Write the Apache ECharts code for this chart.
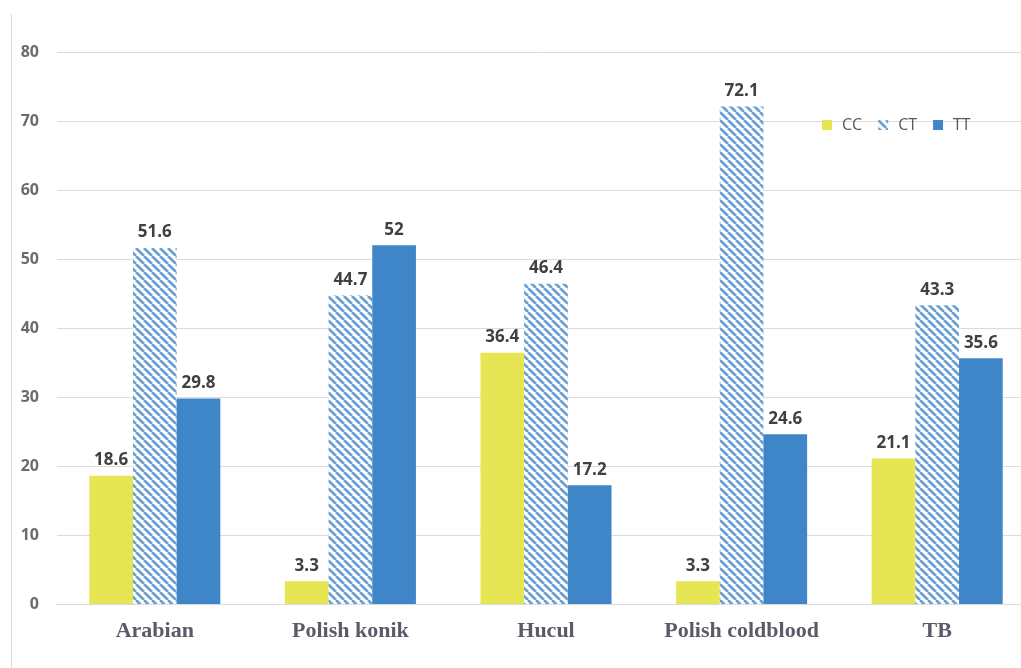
<!DOCTYPE html>
<html>
<head>
<meta charset="utf-8">
<script src="https://cdn.jsdelivr.net/npm/echarts@6/dist/echarts.min.js"></script>
<style>
html,body{margin:0;padding:0;background:#fff;}
#chart{width:1021px;height:668px;}
</style>
</head>
<body>
<div id="chart"></div>
<script>
const categories = ['Arabian', 'Polish konik', 'Hucul', 'Polish coldblood', 'TB'];
const seriesNames = ['CC', 'CT', 'TT'];
const ccValues = [18.6, 3.3, 36.4, 3.3, 21.1];
const ctValues = [51.6, 44.7, 46.4, 72.1, 43.3];
const ttValues = [29.8, 52, 17.2, 24.6, 35.6];
const yTicks = [0, 10, 20, 30, 40, 50, 60, 70, 80];

function hatch() {
  const p = 8;
  const c = document.createElement('canvas');
  c.width = p; c.height = p;
  const ctx = c.getContext('2d');
  ctx.fillStyle = '#ffffff';
  ctx.fillRect(0, 0, p, p);
  ctx.strokeStyle = '#6aa0d2';
  ctx.lineWidth = 2.7;
  for (let x = -p; x <= p; x += p) {
    ctx.beginPath();
    ctx.moveTo(x, 0);
    ctx.lineTo(x + p, p);
    ctx.stroke();
  }
  return { image: c, repeat: 'repeat' };
}

const labelStyle = {
  show: true,
  position: 'top',
  distance: 7,
  color: '#404040',
  fontFamily: 'Open Sans',
  fontWeight: 'bold',
  fontSize: 17
};

const chart = echarts.init(document.getElementById('chart'), null, { renderer: 'canvas' });
chart.setOption({
  backgroundColor: '#ffffff',
  animation: false,
  graphic: [{
    type: 'line',
    shape: { x1: 11.5, y1: 14, x2: 11.5, y2: 668 },
    style: { stroke: '#d9d9d9', lineWidth: 1 }
  }],
  legend: {
    data: seriesNames,
    left: 817,
    top: 112,
    itemWidth: 10,
    itemHeight: 10,
    itemGap: 16,
    icon: 'rect',
    textStyle: { color: '#595959', fontFamily: 'Open Sans', fontSize: 16, padding: [0, 0, 0, 5] }
  },
  grid: { left: 57, width: 978, top: 52, height: 552, containLabel: false, outerBoundsMode: 'none' },
  xAxis: {
    type: 'category',
    data: categories,
    axisTick: { show: false },
    axisLine: { lineStyle: { color: '#d9d9d9' } },
    axisLabel: {
      interval: 0,
      hideOverlap: false,
      color: '#5a5b68',
      fontFamily: 'Liberation Serif',
      fontWeight: 'bold',
      fontSize: 22,
      margin: 16
    }
  },
  yAxis: {
    type: 'value',
    min: yTicks[0],
    max: yTicks[yTicks.length - 1],
    interval: 10,
    axisLine: { show: false },
    axisTick: { show: false },
    splitLine: { lineStyle: { color: '#dcdcdc', width: 1 } },
    axisLabel: {
      color: '#6b6b6b',
      fontFamily: 'Open Sans',
      fontWeight: 'bold',
      fontSize: 16,
      margin: 18
    }
  },
  series: [
    { name: 'CC', type: 'bar', data: ccValues, barGap: '0%', barCategoryGap: '33%',
      itemStyle: { color: '#e6e553' }, label: labelStyle },
    { name: 'CT', type: 'bar', data: ctValues,
      itemStyle: { color: hatch() }, label: labelStyle },
    { name: 'TT', type: 'bar', data: ttValues,
      itemStyle: { color: '#3e86c8' }, label: labelStyle }
  ]
});
</script>
</body>
</html>
